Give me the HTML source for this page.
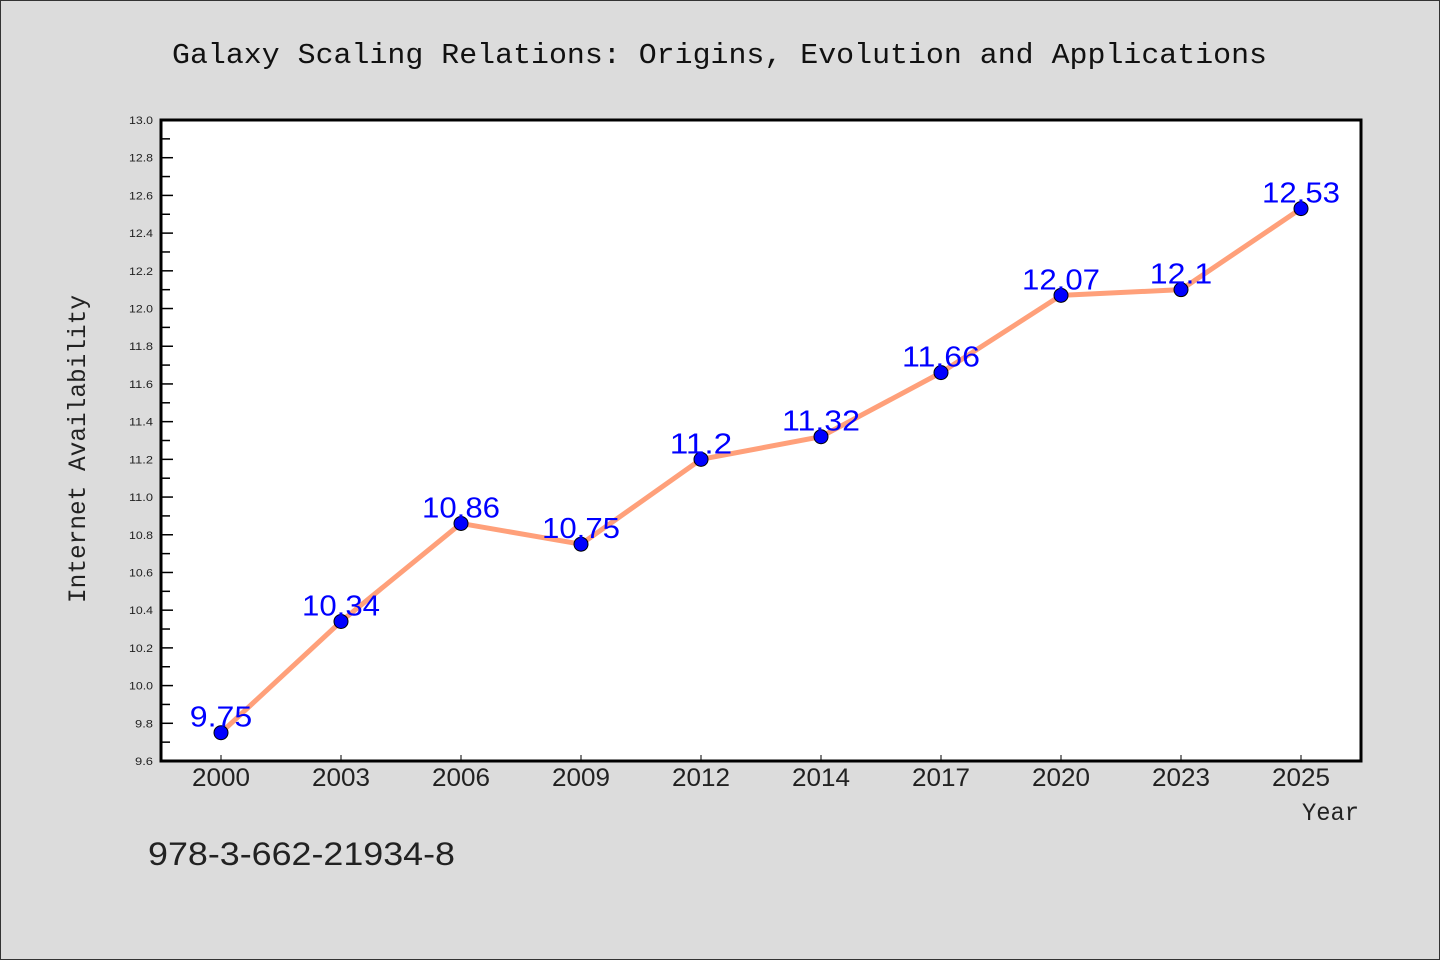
<!DOCTYPE html>
<html><head><meta charset="utf-8"><style>
body{margin:0;background:#dcdcdc;}
svg{display:block;font-family:"Liberation Sans","WenQuanYi Zen Hei",sans-serif;}
</style></head><body>
<svg id="chart" width="1440" height="960" xmlns="http://www.w3.org/2000/svg">
<rect x="0.5" y="0.5" width="1439" height="959" fill="#dcdcdc" stroke="#333"/>
<text x="172" y="63" textLength="1095" lengthAdjust="spacingAndGlyphs" font-size="29" font-family="'Liberation Mono',monospace" fill="#111">Galaxy Scaling Relations: Origins, Evolution and Applications</text>
<rect x="161" y="120" width="1200" height="641" fill="#fff" stroke="#000" stroke-width="3"/>
<text transform="translate(85,603) rotate(-90)" textLength="308" lengthAdjust="spacingAndGlyphs" font-size="25" font-family="'Liberation Mono',monospace" fill="#222">Internet Availability</text>
<text x="1302" y="820" textLength="57" lengthAdjust="spacingAndGlyphs" font-size="25" font-family="'Liberation Mono',monospace" fill="#222">Year</text>
<text x="148" y="865" textLength="307" lengthAdjust="spacingAndGlyphs" font-size="32" fill="#222">978-3-662-21934-8</text>
<g id="axes"></g><g id="marks"></g>
</svg>
<script>
const categories=["2000","2003","2006","2009","2012","2014","2017","2020","2023","2025"];
const values=[9.75,10.34,10.86,10.75,11.2,11.32,11.66,12.07,12.1,12.53];
const yTicks=[9.6,9.8,10.0,10.2,10.4,10.6,10.8,11.0,11.2,11.4,11.6,11.8,12.0,12.2,12.4,12.6,12.8,13.0];
const NS="http://www.w3.org/2000/svg";
const L=161,R=1361,T=120,B=761,yMin=9.6,yMax=13.0;
const band=(R-L)/categories.length;
const x=i=>L+band*(i+0.5);
const y=v=>B-(v-yMin)/(yMax-yMin)*(B-T);
function mk(tag,attrs,parent){const e=document.createElementNS(NS,tag);for(const k in attrs)e.setAttribute(k,attrs[k]);parent.appendChild(e);return e;}
const axes=document.getElementById('axes'),marks=document.getElementById('marks');
yTicks.forEach((v,i)=>{
 const t=mk('line',{x1:L,x2:L+12,y1:y(v),y2:y(v),stroke:'#000','stroke-width':1.5},axes);
 
 
 const s=v.toFixed(1);
 const lb=mk('text',{x:L-8,y:y(v)+4,'text-anchor':'end','font-size':11,fill:'#222',textLength:s.length*6,lengthAdjust:'spacingAndGlyphs'},axes);
 lb.textContent=s;
 
 
 if(i<yTicks.length-1){
  const m=mk('line',{x1:L,x2:L+9,y1:y(v+0.1),y2:y(v+0.1),stroke:'#000','stroke-width':1.5},axes);
  
  
 }
});
categories.forEach((c,i)=>{
 const t=mk('line',{x1:x(i),x2:x(i),y1:B,y2:B-6,stroke:'#000','stroke-width':1},axes);
 
 
 const lb=mk('text',{x:x(i),y:B+25,'text-anchor':'middle','font-size':25,fill:'#222',textLength:58,lengthAdjust:'spacingAndGlyphs'},axes);
 lb.textContent=c;
 
 
});
const line=mk('polyline',{points:values.map((v,i)=>x(i)+','+y(v)).join(' '),fill:'none',stroke:'#ffa07a','stroke-width':5,'stroke-linejoin':'round'},marks);


values.forEach((v,i)=>{
 const p=mk('circle',{cx:x(i),cy:y(v),r:7,fill:'#0000ff',stroke:'#000','stroke-width':1},marks);
 
 
});
values.forEach((v,i)=>{
 const s=String(v);
 const t=mk('text',{x:x(i),y:y(v)-6,'text-anchor':'middle','font-size':29,fill:'#0000ff',textLength:s.length*15.6,lengthAdjust:'spacingAndGlyphs'},marks);
 t.textContent=s;
 
 
});
</script>
</body></html>
